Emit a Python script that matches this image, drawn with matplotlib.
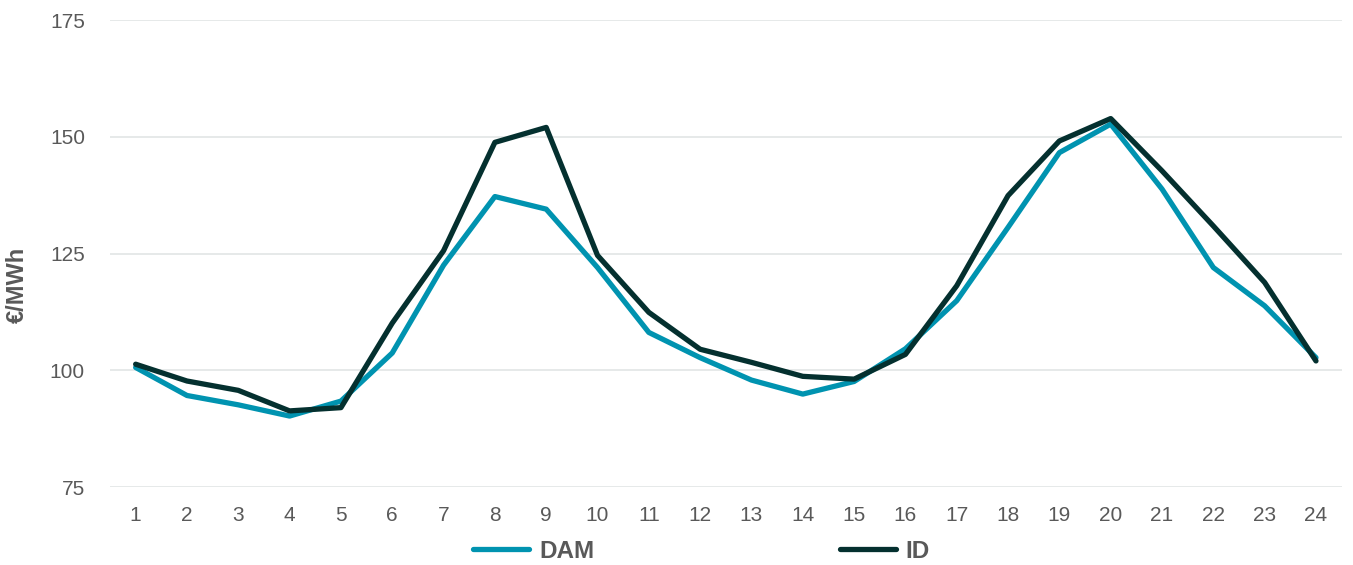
import matplotlib
matplotlib.use("Agg")
import matplotlib.pyplot as plt

hours = list(range(1, 25))
dam = [100.6, 94.6, 92.6, 90.2, 93.4, 103.7, 122.5, 137.2, 134.5, 122.0, 108.1, 102.7,
       97.9, 94.9, 97.6, 104.6, 114.9, 130.6, 146.6, 152.7, 138.8, 122.0, 113.8, 102.7]
id_prices = [101.3, 97.7, 95.7, 91.3, 92.0, 110.1, 125.6, 148.8, 152.0, 124.6, 112.4, 104.5,
             101.7, 98.7, 98.1, 103.4, 118.1, 137.4, 149.1, 153.9, 142.7, 130.9, 118.8, 102.0]
y_ticks = [75, 100, 125, 150, 175]

plt.rcParams['font.family'] = ['Liberation Sans', 'DejaVu Sans']
grey = '#595959'

fig = plt.figure(figsize=(13.53, 5.65), dpi=100)
ax = fig.add_axes([0.0813, 0.138, 0.9103, 0.8266])

ax.plot(hours, dam, color='#0093b0', lw=3.8, label='DAM', solid_capstyle='round')
ax.plot(hours, id_prices, color='#04302f', lw=3.8, label='ID', solid_capstyle='round')

ax.set_xlim(0.5, 24.5)
ax.set_ylim(75, 175)
ax.set_xticks(hours)
ax.set_yticks(y_ticks)
ax.grid(axis='y', color='#e4e7e7', lw=1.3)
ax.set_axisbelow(True)
for s in ax.spines.values():
    s.set_visible(False)
ax.tick_params(axis='both', length=0, labelsize=15, colors=grey)
ax.tick_params(axis='x', pad=14)
ax.tick_params(axis='y', pad=18)

# axis title sits a bit below the middle in the original
ax.set_ylabel('€/MWh', fontsize=17, fontweight='bold', color=grey)
ax.yaxis.set_label_coords(-0.0655, 0.4325)

leg = fig.legend(loc='center', bbox_to_anchor=(0.5185, 0.024), ncol=2, frameon=False,
                 fontsize=17.5, handlelength=2.3, columnspacing=10.1, handletextpad=0.4)
for t in leg.get_texts():
    t.set_fontweight('bold')
    t.set_color(grey)

fig.savefig('out.png', dpi=100)
